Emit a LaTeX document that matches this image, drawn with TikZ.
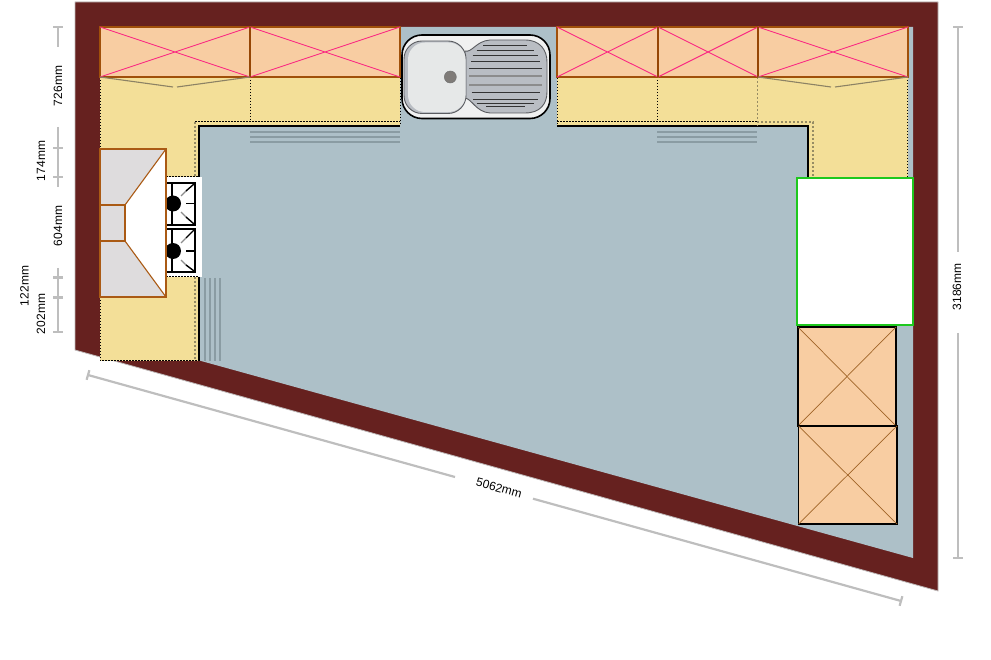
\documentclass[tikz,border=0pt]{standalone}
\usepackage{fontspec}
\setmainfont{Liberation Sans}
\begin{document}
\begin{tikzpicture}[x=1pt,y=-1pt]
	\tikzstyle{wall} = [fill={rgb,255:red,102;green,33;blue,31}, draw={rgb,255:red,190;green,185;blue,185}, line width=0.8pt]
	\tikzstyle{floor} = [fill={rgb,255:red,173;green,192;blue,200}]
	\tikzstyle{counter} = [fill={rgb,255:red,243;green,223;blue,152}]
	\tikzstyle{edge} = [black, line width=1.8pt]
	\tikzstyle{seam} = [black, dash pattern=on 1.5pt off 1.5pt, line width=1pt]
	\tikzstyle{seamtan} = [draw={rgb,255:red,150;green,140;blue,100}, dash pattern=on 2pt off 2pt, line width=1.6pt]
	\tikzstyle{hatch} = [draw={rgb,255:red,138;green,156;blue,163}, line width=1.9pt]
	\tikzstyle{fold} = [draw={rgb,255:red,140;green,130;blue,100}, line width=1.1pt]
	\tikzstyle{wallunit} = [fill={rgb,255:red,248;green,205;blue,162}, draw={rgb,255:red,160;green,80;blue,10}, line width=1.4pt]
	\tikzstyle{wallpost} = [draw={rgb,255:red,150;green,70;blue,5}, line width=2.8pt]
	\tikzstyle{cross} = [draw={rgb,255:red,250;green,40;blue,130}, line width=0.9pt]
	\tikzstyle{baseunit} = [fill={rgb,255:red,248;green,205;blue,162}, draw=black, line width=1.6pt]
	\tikzstyle{basecross} = [draw={rgb,255:red,160;green,100;blue,40}, line width=0.7pt]
	\tikzstyle{hood} = [fill={rgb,255:red,222;green,220;blue,221}, draw={rgb,255:red,170;green,90;blue,20}, line width=1.4pt]
	\tikzstyle{grid} = [black, line width=1.4pt]
	\tikzstyle{gridgrey} = [black!45, line width=1.4pt]
	\tikzstyle{dimline} = [draw={rgb,255:red,190;green,190;blue,190}, line width=2.2pt]
	\tikzstyle{dimlabel} = [font=\fontsize{12}{14}\selectfont, text=black, inner sep=0pt]
	\useasboundingbox (0,0) rectangle (991,660);

	\draw [wall] (75,2) -- (938,2) -- (938,591) -- (75,350) -- cycle;
	\fill [floor] (100,27) -- (913,27) -- (913,558) -- (100,333) -- cycle;

	\fill [counter] (100,27) -- (400,27) -- (400,126) -- (199,126) -- (199,361) -- (100,361) -- cycle;
	\fill [counter] (557,27) -- (908,27) -- (908,178) -- (808,178) -- (808,126) -- (557,126) -- cycle;
	\draw [edge] (199,177) -- (199,126) -- (400,126);
	\draw [edge] (199,277) -- (199,361);
	\draw [edge] (557,126) -- (808,126) -- (808,178);
	\draw [seam] (100,77) -- (100,150) (100,297) -- (100,361) -- (199,361);
	\draw [seam] (250,77) -- (250,122) (195,122) -- (400,122) (400,27) -- (400,126);
	\draw [seam] (557,27) -- (557,126) (557,122) -- (757,122) (657.5,77) -- (657.5,122);
	\draw [seam] (907.5,77) -- (907.5,177.5) -- (808,177.5);
	\draw [seamtan] (195,122) -- (195,177) (195,277) -- (195,361);
	\draw [seamtan] (757.5,77) -- (757.5,126) (757,122) -- (813,122) -- (813,178);

	\draw [hatch] (250,132) -- (400,132) (250,137) -- (400,137) (250,142) -- (400,142);
	\draw [hatch] (657,132) -- (757,132) (657,137) -- (757,137) (657,142) -- (757,142);
	\draw [hatch] (205,278) -- (205,361) (210,278) -- (210,361) (215,278) -- (215,361) (220,278) -- (220,361);

	\draw [wallunit] (100,27) rectangle (250,77);
	\draw [cross] (100,27) -- (250,77) (100,77) -- (250,27);
	\draw [wallunit] (250,27) rectangle (400,77);
	\draw [cross] (250,27) -- (400,77) (250,77) -- (400,27);
	\draw [wallunit] (557,27) rectangle (658,77);
	\draw [cross] (557,27) -- (658,77) (557,77) -- (658,27);
	\draw [wallunit] (658,27) rectangle (758,77);
	\draw [cross] (658,27) -- (758,77) (658,77) -- (758,27);
	\draw [wallunit] (758,27) rectangle (908,77);
	\draw [cross] (758,27) -- (908,77) (758,77) -- (908,27);
	\draw [wallpost] (250,27) -- (250,77) (658,27) -- (658,77) (758,27) -- (758,77);
	\draw [fold] (100,77) -- (173,87) (177,87) -- (250,77);
	\draw [fold] (758,77) -- (831,87) (835,87) -- (908,77);

	\fill [white] (166,177) rectangle (201.5,277);
	\draw [seam] (166,177) -- (199,177) (166,277) -- (199,277);
	\draw [grid] (172,183) -- (172,225) (166,183) -- (195,183) -- (195,225) -- (166,225);
	\draw [grid] (172,229) -- (172,272) (166,229) -- (195,229) -- (195,272) -- (166,272);
	\draw [grid] (186,203.5) -- (195,203.5) (186,251) -- (195,251);
	\draw [gridgrey] (181,196) -- (186,191) (181,212) -- (186,217);
	\draw [gridgrey] (181,243) -- (186,238) (181,260) -- (186,265);
	\draw [grid] (186,191) -- (194,184) (186,217) -- (194,224);
	\draw [grid] (186,238) -- (194,230) (186,265) -- (194,271);
	\fill [black] (173,203.5) circle [radius=8];
	\fill [black] (173,251) circle [radius=8];

	\draw [hood] (100,149) rectangle (166,297);
	\fill [white] (125,205) -- (166,149) -- (166,297) -- (125,241) -- cycle;
	\draw [hood, line width=1.1pt] (100,205) rectangle (125,241);
	\draw [hood, fill=none, line width=1.1pt] (125,205) -- (166,149) (125,241) -- (166,297);
	\draw [hood, fill=none] (100,149) -- (166,149) -- (166,297) -- (100,297) -- cycle;

	\fill [white] (797,178) rectangle (913,325);
	\draw [draw={rgb,255:red,30;green,200;blue,30}, line width=1.5pt] (797,178) rectangle (913,325);

	\draw [baseunit] (798,327) rectangle (896,426);
	\draw [basecross] (798,327) -- (896,426) (798,426) -- (896,327);
	\draw [baseunit] (798.5,426) rectangle (897,524);
	\draw [basecross] (798.5,426) -- (897,524) (798.5,524) -- (897,426);

	\draw [fill={rgb,255:red,240;green,241;blue,241}, draw=black, line width=1.6pt, rounded corners=20pt] (402,35) rectangle (550,118.5);
	\draw [fill={rgb,255:red,185;green,189;blue,195}, draw={rgb,255:red,90;green,92;blue,96}, line width=0.9pt] (465,51) .. controls (472,53) and (476,41) .. (490,40) -- (525,40) .. controls (540,40) and (547,50) .. (547,62) -- (547,92) .. controls (547,104) and (540,113) .. (525,113) -- (490,113) .. controls (476,112) and (472,99) .. (465,98) -- cycle;
	\draw [fill={rgb,255:red,185;green,189;blue,195}, draw={rgb,255:red,90;green,92;blue,96}, line width=0.9pt, rounded corners=18pt] (404,41) rectangle (466,113.5);
	\fill [fill={rgb,255:red,230;green,232;blue,232}, rounded corners=17pt] (408,42.5) rectangle (465.5,112);
	\draw [black!80, line width=1.1pt] (483.3,45.3) -- (526.7,45.3) (476.7,50.3) -- (534,50.3) (472.7,55.3) -- (538.3,55.3) (471,61.3) -- (540,61.3) (469.3,68.3) -- (541.7,68.3);
	\draw [black!45, line width=1.6pt] (469.3,76) -- (541.7,76) (469.3,85) -- (541.7,85);
	\draw [black!80, line width=1.1pt] (471.7,92.3) -- (540,92.3) (473.3,99.3) -- (538.3,99.3) (476.7,103.7) -- (534,103.7) (486,106.3) -- (525,106.3);
	\draw [fill={rgb,255:red,127;green,123;blue,120}, draw=black!55, line width=0.5pt] (450.3,77) circle [radius=6];

	\coordinate (leftTop) at (58,27);
	\coordinate (leftGap) at (58,47);
	\coordinate (midTop) at (58,127);
	\coordinate (midEnd) at (58,187);
	\coordinate (lowTop) at (58,268);
	\coordinate (lowEnd) at (58,332);
	\coordinate (rightTop) at (958,27);
	\coordinate (rightGap) at (958,252);
	\coordinate (rightLow) at (958,333);
	\coordinate (rightEnd) at (958,558);
	\coordinate (slantStart) at (88,375);
	\coordinate (slantGap) at (455,477);
	\coordinate (slantLow) at (533,498.7);
	\coordinate (slantEnd) at (901,601);
	\draw [dimline] (leftTop) -- (leftGap) (midTop) -- (midEnd) (lowTop) -- (lowEnd);
	\draw [dimline] (53,27) -- (63,27) (53,148) -- (63,148) (53,177) -- (63,177) (53,277.5) -- (63,277.5) (53,297.5) -- (63,297.5) (53,332) -- (63,332);
	\draw [dimline] (rightTop) -- (rightGap) (rightLow) -- (rightEnd);
	\draw [dimline] (953,27) -- (963,27) (953,558) -- (963,558);
	\draw [dimline] (slantStart) -- (slantGap) (slantLow) -- (slantEnd);
	\draw [dimline] (89.4,370.2) -- (86.6,379.8) (902.4,596.2) -- (899.6,605.8);

	\node (depthTop) [dimlabel, rotate=90] at (58,86) {726mm};
	\node (hoodGap) [dimlabel, rotate=90] at (41,161) {174mm};
	\node (hoodWidth) [dimlabel, rotate=90] at (58,226) {604mm};
	\node (hobGap) [dimlabel, rotate=90] at (24.5,286) {122mm};
	\node (lowGap) [dimlabel, rotate=90] at (41,314) {202mm};
	\node (roomDepth) [dimlabel, rotate=90] at (957,287) {3186mm};
	\node (slantWall) [dimlabel, rotate=-15.5] at (499,488) {5062mm};
\end{tikzpicture}
\end{document}
